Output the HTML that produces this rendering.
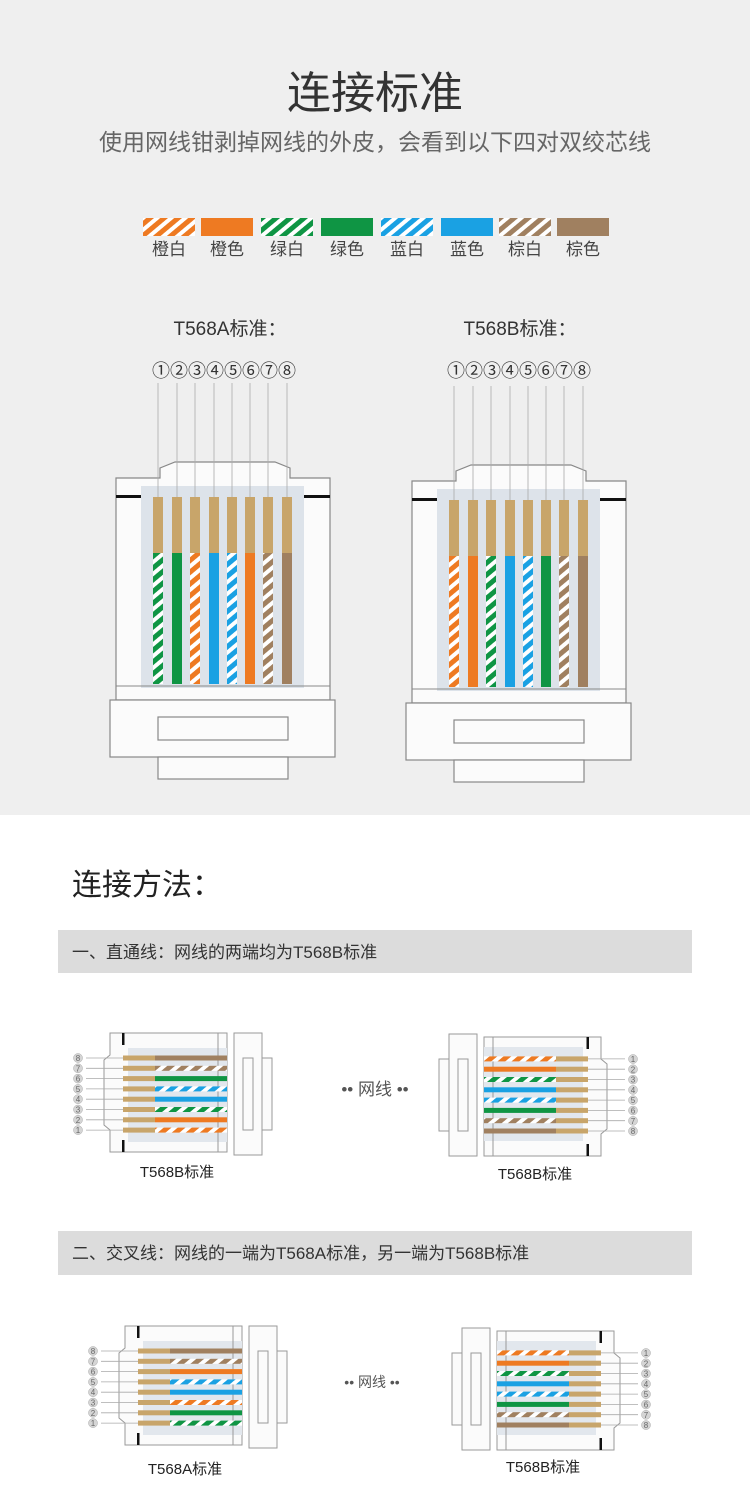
<!DOCTYPE html>
<html><head><meta charset="utf-8"><style>
html,body{margin:0;padding:0;background:#fff}
svg{display:block}
text{font-family:"Liberation Sans","Noto Sans CJK SC",sans-serif}
</style></head><body>
<svg id="s" width="750" height="1508" viewBox="0 0 750 1508" xmlns="http://www.w3.org/2000/svg">
<defs>
<pattern id="p-o" width="9" height="9" patternUnits="userSpaceOnUse" patternTransform="rotate(-40)"><rect width="9" height="9" fill="#fff"/><rect width="9" height="5" fill="#ee7a22"/></pattern>
<pattern id="p-g" width="9" height="9" patternUnits="userSpaceOnUse" patternTransform="rotate(-40)"><rect width="9" height="9" fill="#fff"/><rect width="9" height="5" fill="#0f9544"/></pattern>
<pattern id="p-b" width="9" height="9" patternUnits="userSpaceOnUse" patternTransform="rotate(-40)"><rect width="9" height="9" fill="#fff"/><rect width="9" height="5" fill="#1aa1e3"/></pattern>
<pattern id="p-n" width="9" height="9" patternUnits="userSpaceOnUse" patternTransform="rotate(-40)"><rect width="9" height="9" fill="#fff"/><rect width="9" height="5" fill="#a08060"/></pattern>
</defs>
<rect x="0" y="0" width="750" height="815" fill="#efefef"/>
<text x="375" y="108" font-size="44" fill="#333" text-anchor="middle">连接标准</text>
<text x="375" y="150" font-size="23" fill="#666" text-anchor="middle">使用网线钳剥掉网线的外皮，会看到以下四对双绞芯线</text>
<g id="legend"></g>
<g font-size="17" fill="#444" text-anchor="middle">
<text x="169" y="255">橙白</text><text x="227" y="255">橙色</text><text x="287" y="255">绿白</text><text x="347" y="255">绿色</text><text x="407" y="255">蓝白</text><text x="467" y="255">蓝色</text><text x="525" y="255">棕白</text><text x="583" y="255">棕色</text>
</g>
<text x="230" y="335" font-size="19" fill="#333" text-anchor="middle">T568A标准：</text>
<text x="520" y="335" font-size="19" fill="#333" text-anchor="middle">T568B标准：</text>
<g font-size="18" fill="#333" text-anchor="middle">
<text x="224" y="377">①②③④⑤⑥⑦⑧</text>
<text x="519" y="377">①②③④⑤⑥⑦⑧</text>
</g>
<g id="big"></g>
<text x="72" y="895" font-size="30" fill="#222">连接方法：</text>
<rect x="58" y="930" width="634" height="43" fill="#dcdcdc"/>
<text x="72" y="958" font-size="17" fill="#333">一、直通线：网线的两端均为T568B标准</text>
<rect x="58" y="1231" width="634" height="44" fill="#dcdcdc"/>
<text x="72" y="1259" font-size="17" fill="#333">二、交叉线：网线的一端为T568A标准，另一端为T568B标准</text>
<g id="small"></g>
<text x="375" y="1095" font-size="17" fill="#555" text-anchor="middle">••   网线   ••</text>
<text x="372" y="1387" font-size="14" fill="#555" text-anchor="middle">••   网线   ••</text>
<text x="177" y="1177" font-size="15" fill="#222" text-anchor="middle">T568B标准</text>
<text x="535" y="1179" font-size="15" fill="#222" text-anchor="middle">T568B标准</text>
<text x="185" y="1474" font-size="15" fill="#222" text-anchor="middle">T568A标准</text>
<text x="543" y="1472" font-size="15" fill="#222" text-anchor="middle">T568B标准</text>
<g id="circ" font-size="8" fill="#666" text-anchor="middle"></g>
</svg>
<script>
var NS="http://www.w3.org/2000/svg";
function el(p,t,a){var e=document.createElementNS(NS,t);for(var k in a)e.setAttribute(k,a[k]);p.appendChild(e);return e;}
var C={o:"#ee7a22",g:"#0f9544",b:"#1aa1e3",n:"#a08060"};
function fill(c){return c.length==2?"url(#p-"+c[0]+")":C[c];}
var gold="#c8a56a";
var lg=document.getElementById("legend");
["ow","o","gw","g","bw","b","nw","n"].forEach(function(c,i){
 var xs=[143,201,261,321,381,441,499,557][i];
 el(lg,"rect",{x:xs,y:218,width:52,height:18,fill:fill(c)});
});
var A=["gw","g","ow","b","bw","o","nw","n"], B=["ow","o","gw","b","bw","g","nw","n"];
var bg=document.getElementById("big");
function big(dx,dy,cols){
 var g=el(bg,"g",{transform:"translate("+dx+","+dy+")"});
 el(g,"path",{d:"M116 700 L116 478 L160 478 L160 468 L175 462 L275 462 L290 468 L290 478 L330 478 L330 700 Z",fill:"#fbfbfb",stroke:"#888","stroke-width":1.2});
 el(g,"rect",{x:141,y:486,width:163,height:202,fill:"#dde3ea"});
 el(g,"rect",{x:116,y:495,width:25,height:3,fill:"#111"});
 el(g,"rect",{x:304,y:495,width:26,height:3,fill:"#111"});
 el(g,"line",{x1:116,y1:686,x2:330,y2:686,stroke:"#888"});
 var xs=[158,177,195,214,232,250,268,287];
 for(var i=0;i<8;i++){
  var x=xs[i];
  el(g,"line",{x1:x,y1:383,x2:x,y2:497,stroke:"#aaa","stroke-width":0.8});
  el(g,"rect",{x:x-5,y:497,width:10,height:56,fill:gold});
  el(g,"rect",{x:x-5,y:553,width:10,height:131,fill:fill(cols[i])});
 }
 el(g,"rect",{x:110,y:700,width:225,height:57,fill:"#fbfbfb",stroke:"#888","stroke-width":1.2});
 el(g,"rect",{x:158,y:717,width:130,height:23,fill:"#fbfbfb",stroke:"#888","stroke-width":1.2});
 el(g,"rect",{x:158,y:757,width:130,height:22,fill:"#fbfbfb",stroke:"#888","stroke-width":1.2});
}
big(0,0,A);big(296,3,B);
var sm=document.getElementById("small"),ci=document.getElementById("circ");
function small(tr,cols){
 var g=el(sm,"g",{transform:tr});
 el(g,"path",{d:"M40 3 L157 3 L157 122 L40 122 L40 100 L34 95 L34 30 L40 25 Z",fill:"#fbfbfb",stroke:"#999"});
 el(g,"rect",{x:58,y:18,width:99,height:94,fill:"#e2e7ed"});
 el(g,"rect",{x:52,y:3,width:2.5,height:12,fill:"#111"});
 el(g,"rect",{x:52,y:110,width:2.5,height:12,fill:"#111"});
 el(g,"line",{x1:148,y1:3,x2:148,y2:122,stroke:"#999"});
 for(var i=0;i<8;i++){
  var y=28+i*10.3;
  el(g,"line",{x1:16,y1:y,x2:53,y2:y,stroke:"#aaa","stroke-width":0.8});
  el(g,"rect",{x:53,y:y-2.5,width:32,height:5,fill:gold});
  el(g,"rect",{x:85,y:y-2.5,width:72,height:5,fill:fill(cols[i])});
 }
 el(g,"rect",{x:164,y:3,width:28,height:122,fill:"#fbfbfb",stroke:"#999"});
 el(g,"rect",{x:173,y:28,width:10,height:72,fill:"#fbfbfb",stroke:"#999"});
 el(g,"rect",{x:192,y:28,width:10,height:72,fill:"#fbfbfb",stroke:"#999"});
}
function circles(x,y0,step,nums){
 nums.forEach(function(n,i){var y=y0+i*step;
  el(ci,"circle",{cx:x,cy:y,r:4.5,fill:"#d5d5d5",stroke:"#aaa","stroke-width":0.5});
  var t=el(ci,"text",{x:x,y:y+3});t.textContent=n;});
}
var down=[8,7,6,5,4,3,2,1],up=[1,2,3,4,5,6,7,8];
function rev(a){return a.slice().reverse();}
small("translate(70,1030)",rev(B));
small("translate(641,1159) rotate(180)",rev(B));
small("translate(85,1323)",rev(A));
small("translate(654,1453) rotate(180)",rev(B));
circles(78,1058,10.3,down);
circles(633,1059,10.3,up);
circles(93,1351,10.3,down);
circles(646,1353,10.3,up);
</script>
</body></html>
